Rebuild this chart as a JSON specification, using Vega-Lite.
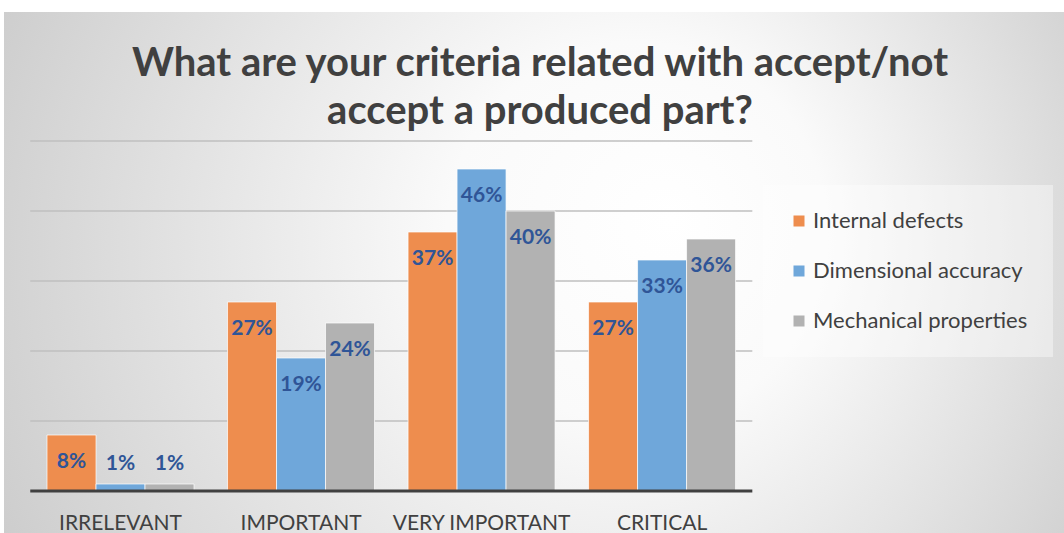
{
  "$schema": "https://vega.github.io/schema/vega-lite/v6.json",
  "width": 1060,
  "height": 521,
  "autosize": {"type": "none"},
  "padding": {"left": 4, "top": 12, "right": 0, "bottom": 0},
  "background": "#FFFFFF",
  "config": {
    "font": "Lato",
    "view": {
      "stroke": null,
      "fill": {
        "gradient": "radial",
        "x1": 0.63, "y1": 0.45, "r1": 0,
        "x2": 0.5, "y2": 0.5, "r2": 0.72,
        "stops": [
          {"offset": 0, "color": "#FFFFFF"},
          {"offset": 0.25, "color": "#FAFAFA"},
          {"offset": 1, "color": "#BEBEBE"}
        ]
      }
    }
  },
  "title": {
    "text": ["What are your criteria related with accept/not", "accept a produced part?"],
    "font": "Lato",
    "fontSize": 40,
    "fontWeight": "bold",
    "color": "#404040",
    "anchor": "middle",
    "frame": "group",
    "lineHeight": 48,
    "offset": -120,
    "dx": 6
  },
  "data": {
    "values": [
      {"category": "IRRELEVANT", "series": "Internal defects", "value": 0.08},
      {"category": "IRRELEVANT", "series": "Dimensional accuracy", "value": 0.01},
      {"category": "IRRELEVANT", "series": "Mechanical properties", "value": 0.01},
      {"category": "IMPORTANT", "series": "Internal defects", "value": 0.27},
      {"category": "IMPORTANT", "series": "Dimensional accuracy", "value": 0.19},
      {"category": "IMPORTANT", "series": "Mechanical properties", "value": 0.24},
      {"category": "VERY IMPORTANT", "series": "Internal defects", "value": 0.37},
      {"category": "VERY IMPORTANT", "series": "Dimensional accuracy", "value": 0.46},
      {"category": "VERY IMPORTANT", "series": "Mechanical properties", "value": 0.40},
      {"category": "CRITICAL", "series": "Internal defects", "value": 0.27},
      {"category": "CRITICAL", "series": "Dimensional accuracy", "value": 0.33},
      {"category": "CRITICAL", "series": "Mechanical properties", "value": 0.36}
    ]
  },
  "layer": [
    {
      "data": {"values": [{"g": 0.1}, {"g": 0.2}, {"g": 0.3}, {"g": 0.4}, {"g": 0.5}]},
      "mark": {"type": "rule", "color": "#BFBFBF", "strokeWidth": 1.5},
      "encoding": {
        "y": {"field": "g", "type": "quantitative", "scale": {"domain": [-0.06, 0.6843], "nice": false, "zero": false}, "axis": null},
        "x": {
          "datum": "IRRELEVANT", "type": "nominal", "bandPosition": 0,
          "scale": {"domain": ["IRRELEVANT", "IMPORTANT", "VERY IMPORTANT", "CRITICAL"], "paddingInner": 0, "paddingOuter": 0.936, "align": 0.0777},
          "axis": {
            "title": null, "labelAngle": 0, "ticks": false, "domain": false,
            "offset": -21, "labelPadding": 0, "labelFontSize": 21, "labelColor": "#404040",
            "labelFont": "Lato", "labelBaseline": "top"
          }
        },
        "x2": {"datum": "CRITICAL", "bandPosition": 1}
      }
    },
    {
      "mark": {"type": "bar", "stroke": "#FFFFFF", "strokeWidth": 1, "strokeOpacity": 0.7},
      "encoding": {
        "x": {
          "field": "category", "type": "nominal",
          "scale": {"domain": ["IRRELEVANT", "IMPORTANT", "VERY IMPORTANT", "CRITICAL"], "paddingInner": 0, "paddingOuter": 0.936, "align": 0.0777},
          "axis": {
            "title": null, "labelAngle": 0, "ticks": false, "domain": false,
            "offset": -21, "labelPadding": 0, "labelFontSize": 21, "labelColor": "#404040",
            "labelFont": "Lato", "labelBaseline": "top"
          }
        },
        "xOffset": {"field": "series", "type": "nominal", "scale": {"domain": ["Internal defects", "Dimensional accuracy", "Mechanical properties"], "paddingInner": 0, "paddingOuter": 0.342}},
        "y": {"field": "value", "type": "quantitative", "scale": {"domain": [-0.06, 0.6843], "nice": false, "zero": false}, "axis": null},
        "color": {
          "field": "series", "type": "nominal",
          "scale": {"domain": ["Internal defects", "Dimensional accuracy", "Mechanical properties"], "range": ["#EE8D4E", "#6FA7DA", "#B2B2B2"]},
          "legend": {
            "title": null, "orient": "none", "legendX": 759, "legendY": 173,
            "symbolType": "square", "symbolSize": 121, "symbolStrokeWidth": 0,
            "labelFontSize": 22, "labelFont": "Lato", "labelColor": "#404040",
            "labelOffset": 3, "rowPadding": 28, "padding": 25,
            "fillColor": "rgba(255,255,255,0.4)", "labelLimit": 400
          }
        }
      }
    },
    {
      "transform": [{"filter": "datum.value >= 0.05"}],
      "mark": {"type": "text", "font": "Lato", "fontWeight": "bold", "fontSize": 21, "color": "#2F5597", "baseline": "top", "dy": 16},
      "encoding": {
        "x": {"field": "category", "type": "nominal", "scale": {"domain": ["IRRELEVANT", "IMPORTANT", "VERY IMPORTANT", "CRITICAL"]}},
        "xOffset": {"field": "series", "type": "nominal", "scale": {"domain": ["Internal defects", "Dimensional accuracy", "Mechanical properties"]}},
        "y": {"field": "value", "type": "quantitative", "axis": null},
        "text": {"field": "value", "type": "quantitative", "format": ".0%"}
      }
    },
    {
      "transform": [{"filter": "datum.value < 0.05"}],
      "mark": {"type": "text", "font": "Lato", "fontWeight": "bold", "fontSize": 21, "color": "#2F5597", "baseline": "bottom", "dy": -10},
      "encoding": {
        "x": {"field": "category", "type": "nominal", "scale": {"domain": ["IRRELEVANT", "IMPORTANT", "VERY IMPORTANT", "CRITICAL"]}},
        "xOffset": {"field": "series", "type": "nominal", "scale": {"domain": ["Internal defects", "Dimensional accuracy", "Mechanical properties"]}},
        "y": {"field": "value", "type": "quantitative", "axis": null},
        "text": {"field": "value", "type": "quantitative", "format": ".0%"}
      }
    },
    {
      "data": {"values": [{"g": 0}]},
      "mark": {"type": "rule", "color": "#404040", "strokeWidth": 3},
      "encoding": {
        "y": {"field": "g", "type": "quantitative", "scale": {"domain": [-0.06, 0.6843], "nice": false, "zero": false}, "axis": null},
        "x": {"datum": "IRRELEVANT", "type": "nominal", "bandPosition": 0},
        "x2": {"datum": "CRITICAL", "bandPosition": 1}
      }
    }
  ]
}
